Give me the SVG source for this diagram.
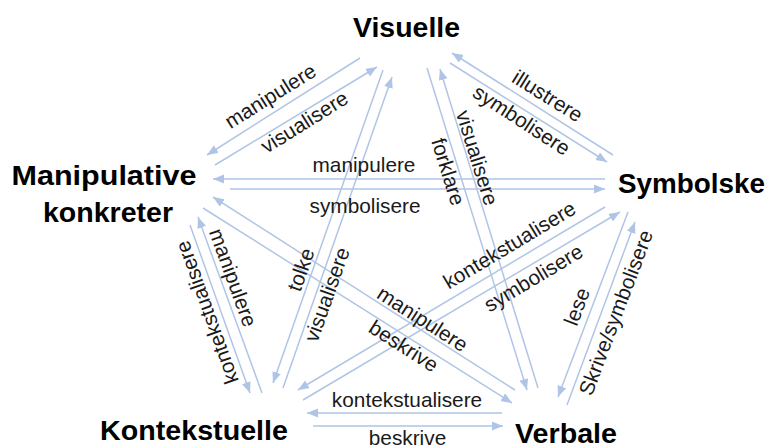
<svg xmlns="http://www.w3.org/2000/svg" width="769" height="448" viewBox="0 0 769 448">
<style>
.n{font-family:"Liberation Sans",Arial,sans-serif;font-weight:bold;font-size:28px;fill:#000;text-anchor:middle}
.l{font-family:"Liberation Sans",Arial,sans-serif;font-size:20.8px;fill:#1a1a1a;text-anchor:middle}
.c line{stroke:#B0C5E6;stroke-width:1.5;marker-end:url(#ah)}
</style>
<defs>
<marker id="ah" markerUnits="userSpaceOnUse" markerWidth="12" markerHeight="10" refX="11" refY="4.5" orient="auto">
<path d="M0,0 L11,4.5 L0,9 z" fill="#B0C5E6"/>
</marker>
</defs>
<rect width="769" height="448" fill="#fff"/>
<g id="connectors" class="c">
<line x1="360" y1="58" x2="207" y2="155"/>
<line x1="215" y1="165" x2="377" y2="67"/>
<line x1="613" y1="155" x2="452" y2="53"/>
<line x1="450" y1="63" x2="607" y2="162"/>
<line x1="383" y1="70" x2="273" y2="383"/>
<line x1="283" y1="388" x2="392" y2="77"/>
<line x1="427" y1="68" x2="527" y2="390"/>
<line x1="538" y1="388" x2="440" y2="69"/>
<line x1="605" y1="179" x2="213" y2="179"/>
<line x1="230" y1="189" x2="605" y2="189"/>
<line x1="190" y1="225" x2="250" y2="393"/>
<line x1="262" y1="393" x2="198" y2="217"/>
<line x1="515" y1="390" x2="213" y2="197"/>
<line x1="203" y1="208" x2="512" y2="403"/>
<line x1="605" y1="207" x2="298" y2="390"/>
<line x1="303" y1="400" x2="620" y2="212"/>
<line x1="502" y1="413" x2="307" y2="413"/>
<line x1="313" y1="426" x2="503" y2="426"/>
<line x1="628" y1="212" x2="558" y2="397"/>
<line x1="567" y1="405" x2="635" y2="222"/>
</g>
<g id="labels">
<text class="l" transform="translate(271,97) rotate(-32)" y="6">manipulere</text>
<text class="l" transform="translate(305,123) rotate(-32)" y="6">visualisere</text>
<text class="l" transform="translate(547,97) rotate(32)" y="6">illustrere</text>
<text class="l" transform="translate(521,121) rotate(33)" y="6">symbolisere</text>
<text class="l" transform="translate(447,172) rotate(72.7)" y="6">forklare</text>
<text class="l" transform="translate(476,158) rotate(72.7)" y="6">visualisere</text>
<text class="l" x="364" y="172">manipulere</text>
<text class="l" x="365" y="213">symbolisere</text>
<text class="l" transform="translate(208,312) rotate(-109.7)" y="6">kontekstualisere</text>
<text class="l" transform="translate(232,278) rotate(70)" y="6">manipulere</text>
<text class="l" transform="translate(302,270) rotate(-70.6)" y="6">tolke</text>
<text class="l" transform="translate(328,295) rotate(-70.6)" y="6">visualisere</text>
<text class="l" transform="translate(422,320) rotate(32.6)" y="6">manipulere</text>
<text class="l" transform="translate(403,347) rotate(32.6)" y="6">beskrive</text>
<text class="l" transform="translate(510,246) rotate(-31)" y="6">kontekstualisere</text>
<text class="l" transform="translate(534,279) rotate(-31)" y="6">symbolisere</text>
<text class="l" transform="translate(578,307) rotate(-69.3)" y="6">lese</text>
<text class="l" transform="translate(617,313) rotate(-69.3)" y="6">Skrive/symbolisere</text>
<text class="l" x="407" y="407">kontekstualisere</text>
<text class="l" x="407.5" y="445">beskrive</text>
</g>
<g id="node-visuelle"><text class="n" x="406.5" y="37" textLength="107" lengthAdjust="spacingAndGlyphs">Visuelle</text></g>
<g id="node-symbolske"><text class="n" x="691.5" y="193" textLength="147" lengthAdjust="spacingAndGlyphs">Symbolske</text></g>
<g id="node-manipulative"><text class="n" x="104" y="185" textLength="185" lengthAdjust="spacingAndGlyphs">Manipulative</text><text class="n" x="108" y="222" textLength="130" lengthAdjust="spacingAndGlyphs">konkreter</text></g>
<g id="node-kontekstuelle"><text class="n" x="194" y="440" textLength="188" lengthAdjust="spacingAndGlyphs">Kontekstuelle</text></g>
<g id="node-verbale"><text class="n" x="566" y="443" textLength="102" lengthAdjust="spacingAndGlyphs">Verbale</text></g>
</svg>
